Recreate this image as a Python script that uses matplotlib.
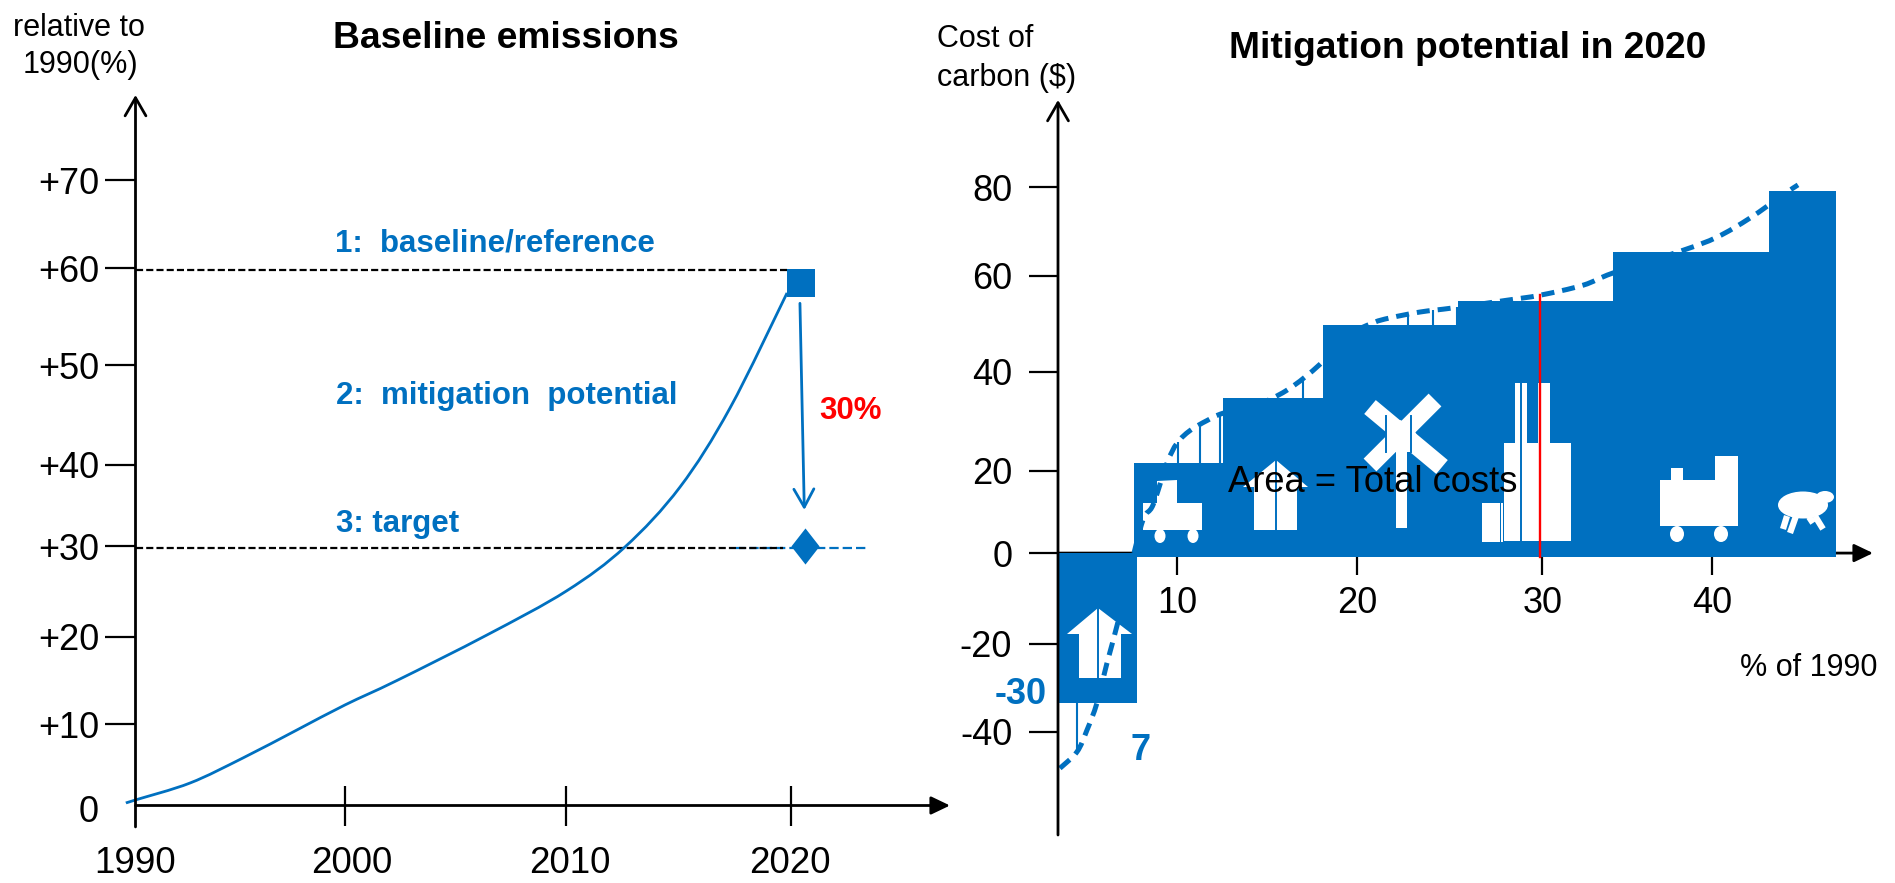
import matplotlib
matplotlib.use("Agg")
import matplotlib.pyplot as plt
import numpy as np
from matplotlib.patches import Ellipse, PathPatch, Polygon, Rectangle
from matplotlib.path import Path


# ==========================================================
# DATA
# ==========================================================

# Left chart: baseline emissions
years = [1989.56, 1990.0, 1992.50, 1994.92, 1997.39, 1999.59, 2001.97,
         2006.09, 2009.73, 2012.41, 2014.93, 2017.22, 2019.83]
emissions = [2.48, 2.81, 4.64, 7.34, 10.36, 13.06, 15.7,
             20.61, 25.36, 30.11, 36.58, 45.11, 57.52]

year_ticks = [1990, 1999.6, 2009.73, 2020]
year_labels = ["1990", "2000", "2010", "2020"]
year_label_pos = [1990, 1999.91, 2009.9, 2019.97]
pct_ticks = [11.0, 20.4, 30.2, 39.0, 49.7, 60.2, 69.7]
pct_labels = ["+10", "+20", "+30", "+40", "+50", "+60", "+70"]

baseline_level = 60
target_level = 30
baseline_point = (2020.47, 58.6)
target_point = (2020.65, 30.2)

# Right chart: mitigation cost steps
step_left = [3.35, 7.6, 12.57, 18.16, 25.7, 34.36, 43.07]
step_width = [4.42, 4.97, 5.59, 7.54, 8.66, 8.71, 3.73]
step_cost = [-33.0, 19.8, 34.1, 50.2, 55.5, 66.3, 79.7]

curve_x = [3.46, 4.41, 4.97, 5.53, 6.09, 6.70, 7.37, 8.10, 8.66, 9.44, 10.0, 10.73,
           11.68, 12.57, 14.25, 16.15, 17.99, 19.39, 20.95, 21.9, 23.58, 25.42,
           28.44, 30.28, 32.68, 34.36, 38.27, 40.17, 42.01, 43.85, 44.69]
curve_cost = [-47.4, -43.8, -39.0, -33.0, -24.2, -15.2, -3.7, 7.3, 10.6, 19.8, 24.2, 27.0,
              29.2, 30.8, 32.3, 35.9, 41.6, 47.6, 50.7, 51.8, 53.1, 54.0,
              55.7, 56.8, 59.0, 61.7, 66.7, 69.6, 73.8, 78.9, 81.1]

# thin vertical lines that run from the curve down into the steps
stem_x = [4.41, 10.06, 11.28, 12.4, 17.04, 22.9, 24.3, 25.64]

share_ticks = [10.0, 20.06, 30.4, 39.9]
share_labels = ["10", "20", "30", "40"]
cost_ticks = [-39.4, -20, 0, 18.1, 39.9, 61.1, 80.6]
cost_labels = ["-40", "-20", "0", "20", "40", "60", "80"]
target_share = 30.28


# ==========================================================
# STYLE AND LAYOUT
# ==========================================================

W, H = 1895, 883
BLUE = "#0070C0"

plt.rcParams["font.family"] = ["Liberation Sans", "DejaVu Sans"]

fig = plt.figure(figsize=(W / 100, H / 100), dpi=100)


def axes_from_pixels(left, right, top, bottom):
    return fig.add_axes([left / W, 1 - bottom / H, (right - left) / W, (bottom - top) / H])


ax_l = axes_from_pixels(135.5, 950, 95, 805.5)
ax_r = axes_from_pixels(1058, 1873, 100, 835)
ax_px = fig.add_axes([0, 0, 1, 1], zorder=5)

ax_l.set_xlim(1990, 2027.29)
ax_l.set_ylim(2.21, 78.88)
ax_r.set_xlim(3.352, 48.88)
ax_r.set_ylim(-62.1, 99.8)

# Overlay in pixel coordinates, for free text and icon outlines
ax_px.set_xlim(0, W)
ax_px.set_ylim(H, 0)
ax_px.axis("off")
px = ax_px.transData

for ax in (ax_l, ax_r):
    ax.patch.set_visible(False)
    for side in ax.spines:
        ax.spines[side].set_visible(False)
    ax.set_axisbelow(True)


def open_arrow(ax, start, end):
    ax.annotate("", xy=end, xytext=start, annotation_clip=False, zorder=4,
                arrowprops=dict(arrowstyle="->,head_length=1.3,head_width=0.75",
                                color="black", lw=2, shrinkA=0, shrinkB=0))


def solid_arrow(ax, start, end):
    ax.annotate("", xy=end, xytext=start, annotation_clip=False, zorder=0.8,
                arrowprops=dict(arrowstyle="-|>,head_length=1.15,head_width=0.55",
                                color="black", fc="black", lw=2, shrinkA=0, shrinkB=0))


def smooth_path(xs, ys):
    # Bezier segments through the read points, so the curve has no corners
    pts = np.column_stack([xs, ys])
    padded = np.vstack([pts[0], pts, pts[-1]])
    verts = [pts[0]]
    codes = [Path.MOVETO]
    for i in range(1, len(padded) - 2):
        c1 = padded[i] + (padded[i + 1] - padded[i - 1]) / 6
        c2 = padded[i + 1] - (padded[i + 2] - padded[i]) / 6
        verts += [c1, c2, padded[i + 1]]
        codes += [Path.CURVE4] * 3
    return Path(verts, codes)


# ==========================================================
# LEFT CHART
# ==========================================================

open_arrow(ax_l, (1990, -0.1), (1990, 78.88))
solid_arrow(ax_l, (1990, 2.21), (2027.29, 2.21))

ax_l.set_xticks(year_ticks[1:], [""] * 3)
ax_l.tick_params(axis="x", direction="inout", length=29, width=1.6)
ax_l.set_yticks(pct_ticks, pct_labels)
ax_l.tick_params(axis="y", direction="out", length=22, width=1.6, pad=4, labelsize=26)

for label_text, pos in zip(year_labels, year_label_pos):
    ax_l.annotate(label_text, xy=(pos, 2.21), xytext=(0, -58), textcoords="offset pixels",
                  ha="center", va="center", fontsize=26.5, annotation_clip=False)
ax_l.annotate("0", xy=(1990, 2.21), xytext=(-47, -7), textcoords="offset pixels",
              ha="center", va="center", fontsize=26, annotation_clip=False)

ax_l.plot([1990, 2019.83], [baseline_level, baseline_level], color="black", lw=1.6,
          dashes=(3.2, 1.4), zorder=2)
ax_l.plot([1990, 2019.65], [target_level, target_level], color="black", lw=1.6,
          dashes=(3.2, 1.4), zorder=2)
ax_l.plot([2017.5, 2023.55], [target_level, target_level], color=BLUE, lw=1.6,
          dashes=(4.2, 1.8), zorder=1.9)

ax_l.add_patch(PathPatch(smooth_path(years, emissions), fc="none", ec=BLUE, lw=2,
                         clip_on=False, zorder=3))

ax_l.plot(*baseline_point, marker="s", ms=20, mfc=BLUE, mec=BLUE, mew=0, zorder=3)
diamond = [(0, 1), (0.78, 0), (0, -1), (-0.78, 0), (0, 1)]
ax_l.plot(*target_point, marker=diamond, ms=26, mfc=BLUE, mec=BLUE, mew=0, zorder=3)

ax_l.annotate("", xy=(2020.62, 34.1), xytext=(2020.42, 56.4),
              arrowprops=dict(arrowstyle="->,head_length=1.3,head_width=0.72",
                              color=BLUE, lw=2, shrinkA=0, shrinkB=0))


# ==========================================================
# RIGHT CHART
# ==========================================================

open_arrow(ax_r, (3.352, -62.1), (3.352, 99.8))
solid_arrow(ax_r, (3.352, 0), (48.88, 0))

ax_r.spines["bottom"].set_position("zero")
ax_r.set_xticks(share_ticks, share_labels)
ax_r.tick_params(axis="x", direction="out", length=16, width=1.6, pad=8, labelsize=26)
ax_r.set_yticks(cost_ticks, cost_labels)
ax_r.tick_params(axis="y", direction="out", length=21, width=1.6, pad=12, labelsize=26)

stem_top = np.interp(stem_x, curve_x, curve_cost)
ax_r.vlines(stem_x, 0, stem_top, color=BLUE, lw=1.5, zorder=1)

bottoms = [0 if c < 0 else -0.8 for c in step_cost]
heights = [c - b for c, b in zip(step_cost, bottoms)]
ax_r.bar(step_left, heights, width=step_width, bottom=bottoms, align="edge",
         color=BLUE, lw=0, zorder=1.5)


# ==========================================================
# ICONS (white shapes on the steps, outlines in pixels)
# ==========================================================

def white_rect(x0, x1, y0, y1):
    ax_r.add_patch(Rectangle((x0, y0), x1 - x0, y1 - y0, fc="white", ec="none",
                             transform=px, zorder=2))


def white_oval(x, y, w, h):
    ax_r.add_patch(Ellipse((x, y), w, h, fc="white", ec="none", transform=px, zorder=2))


def white_poly(points):
    ax_r.add_patch(Polygon(points, closed=True, fc="white", ec="none", transform=px, zorder=2))


def blue_slit(x, y0, y1, lw=1.4):
    ax_r.plot([x, x], [y0, y1], color=BLUE, lw=lw, transform=px, zorder=2.1, clip_on=False)


def white_bar(x0, y0, x1, y1, lw):
    ax_r.plot([x0, x1], [y0, y1], color="white", lw=lw, transform=px, zorder=2,
              solid_capstyle="butt", clip_on=False)


def house(apex_x, apex_y, eave_l, eave_r, eave_y, body_l, body_r, base_y):
    white_poly([(apex_x, apex_y), (eave_r, eave_y), (eave_l, eave_y)])
    white_rect(body_l, body_r, eave_y, base_y)
    blue_slit(apex_x, apex_y, base_y)


# house in the first step
house(1098, 608, 1067, 1132, 634, 1079, 1121, 678)

# truck
white_poly([(1157, 481), (1177, 480), (1177, 504), (1157, 504)])
white_rect(1143, 1202, 503, 530)
white_oval(1160, 536, 11, 14)
white_oval(1193, 536, 11, 14)

# second house
house(1276, 460, 1243, 1308, 487, 1254, 1297, 530)

# crossing sign
white_bar(1370, 407, 1442, 467, 13)
white_bar(1435, 400, 1370, 465, 13)
white_poly([(1388, 425), (1400, 420), (1411, 425), (1418, 437), (1411, 452), (1388, 452), (1385, 437)])
white_rect(1396, 1407, 450, 528)
blue_slit(1386, 416, 452)
blue_slit(1411, 416, 452)

# factory
white_rect(1482, 1500, 503, 542)
white_rect(1501, 1503, 503, 542)
white_rect(1504, 1571, 443, 541)
white_rect(1515, 1527, 383, 443)
white_rect(1538, 1550, 383, 443)
blue_slit(1521, 383, 541)

# train
white_rect(1660, 1738, 480, 526)
white_rect(1715, 1738, 456, 481)
white_rect(1671, 1683, 468, 481)
white_oval(1677, 534, 14, 16)
white_oval(1721, 534, 14, 16)

# sheep
white_oval(1803, 505, 50, 27)
white_oval(1825, 497, 18, 12)
white_bar(1787, 516, 1783, 529, 4.5)
white_bar(1796, 516, 1790, 533, 4.5)
white_bar(1815, 516, 1823, 529, 4.5)
white_bar(1809, 517, 1813, 523, 4.5)

# Curve and the red share line go over the icons
ax_r.add_patch(PathPatch(smooth_path(curve_x, curve_cost), fc="none", ec=BLUE, lw=3.6,
                         linestyle=(0, (2.6, 1.6)), clip_on=False, zorder=2.5))
ax_r.plot([target_share, target_share], [-0.8, curve_cost[curve_x.index(target_share)]],
          color="red", lw=1.7, zorder=2.6)


# ==========================================================
# TEXT
# ==========================================================

def label(x, y, text, size, color="black", bold=False, ha="left"):
    ax_px.text(x, y, text, fontsize=size, color=color, ha=ha, va="center",
               fontweight="bold" if bold else "normal")


label(13, 28, "relative to", 22)
label(23, 65, "1990(%)", 22)
label(333, 38, "Baseline emissions", 26.8, bold=True)
label(335, 243, "1:  baseline/reference", 22.5, BLUE, True)
label(336, 396, "2:  mitigation  potential", 22.5, BLUE, True)
label(336, 524, "3: target", 22.5, BLUE, True)
label(819, 411, "30%", 22.5, "red", True)

label(937, 39, "Cost of", 22)
label(937, 78, "carbon ($)", 22)
label(1229, 48, "Mitigation potential in 2020", 26.7, bold=True)
label(1740, 668, "% of 1990", 22)
label(995, 695, "-30", 26, BLUE, True)
label(1130, 750, "7", 26, BLUE, True)
label(1228, 482, "Area = Total costs", 26.2)

fig.savefig("out.png", dpi=100)
